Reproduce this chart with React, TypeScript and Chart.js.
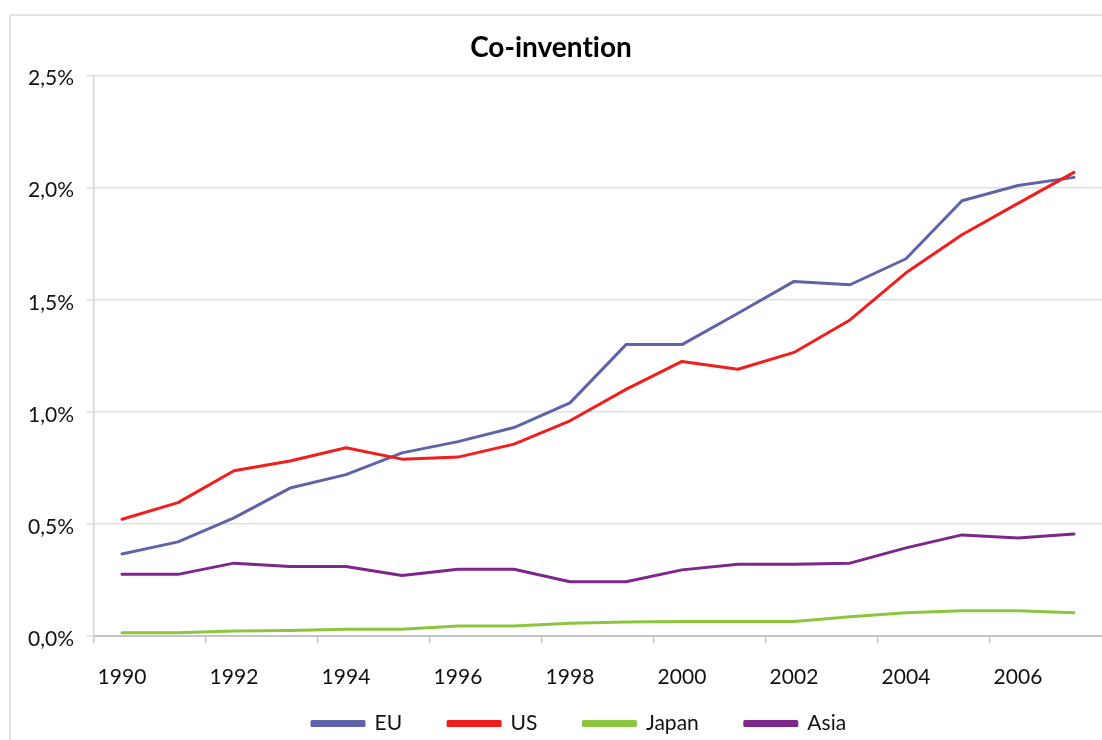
import React, { useEffect, useRef } from "react";
import { Chart, registerables } from "chart.js";

Chart.register(...registerables);

const years = ["1990","1991","1992","1993","1994","1995","1996","1997","1998","1999","2000","2001","2002","2003","2004","2005","2006","2007"];
const euValues = [0.366, 0.42, 0.527, 0.66, 0.72, 0.817, 0.867, 0.93, 1.04, 1.30, 1.30, 1.44, 1.582, 1.567, 1.683, 1.942, 2.01, 2.046];
const usValues = [0.521, 0.595, 0.737, 0.781, 0.84, 0.789, 0.798, 0.856, 0.96, 1.10, 1.225, 1.19, 1.265, 1.41, 1.62, 1.79, 1.93, 2.068];
const japanValues = [0.015, 0.015, 0.022, 0.025, 0.03, 0.03, 0.045, 0.045, 0.057, 0.062, 0.065, 0.065, 0.065, 0.086, 0.104, 0.113, 0.113, 0.104];
const asiaValues = [0.275, 0.275, 0.325, 0.31, 0.31, 0.27, 0.298, 0.298, 0.242, 0.242, 0.295, 0.32, 0.32, 0.325, 0.393, 0.451, 0.437, 0.455];
const seriesNames = ["EU", "US", "Japan", "Asia"];
const seriesColors = ["#5f63a8", "#f21d1d", "#8cc63e", "#7d268b"];
const yTicks = [0, 0.5, 1.0, 1.5, 2.0, 2.5];

const FONT = "Lato, 'Open Sans', sans-serif";

const noLigatures = {
  id: "noLigatures",
  beforeDraw(chart: any) {
    try { chart.ctx.letterSpacing = "0.01px"; } catch (e) { /* ignore */ }
  },
};

const legendPlacement = {
  id: "legendPlacement",
  afterLayout(chart: any) {
    const lg = chart.legend;
    if (!lg) return;
    lg.top = 667;
    lg.bottom = 740;
    lg.height = 73;
    lg.left += 28;
    lg.right += 28;
  },
};

export default function App() {
  const ref = useRef<HTMLCanvasElement | null>(null);

  useEffect(() => {
    document.body.style.margin = "0";
    const canvas = ref.current;
    if (!canvas) return;
    const values = [euValues, usValues, japanValues, asiaValues];
    const chart = new Chart(canvas, {
      type: "line",
      data: {
        labels: years,
        datasets: values.map((v, i) => ({
          label: seriesNames[i],
          data: v,
          borderColor: seriesColors[i],
          backgroundColor: seriesColors[i],
          borderWidth: 3,
          pointRadius: 0,
          tension: 0,
          borderJoinStyle: "round" as const,
          borderCapStyle: "round" as const,
          order: i === 1 ? 0 : i + 1,
        })),
      },
      plugins: [noLigatures, legendPlacement],
      options: {
        responsive: false,
        animation: false,
        layout: { padding: { left: 0, right: 0, top: 0, bottom: 0 } },
        plugins: {
          title: {
            display: true,
            text: "Co-invention",
            color: "#000",
            font: { family: FONT, size: 28, weight: "bold" },
            padding: { top: 31, bottom: 11 },
          },
          legend: {
            display: true,
            position: "bottom",
            maxHeight: 50,
            labels: {
              boxWidth: 52,
              boxHeight: 4,
              padding: 46,
              color: "#111",
              font: { family: FONT, size: 21 },
              sort: (a: any, b: any) => a.datasetIndex - b.datasetIndex,
            },
          },
          tooltip: { enabled: false },
        },
        scales: {
          x: {
            type: "category",
            offset: true,
            afterFit: (s: any) => { s.height = 54; },
            grid: {
              offset: true,
              drawOnChartArea: false,
              drawTicks: true,
              tickLength: 7,
              lineWidth: 1.5,
              color: (ctx: any) => (ctx.index % 2 === 0 ? "#c8c8c8" : "rgba(0,0,0,0)"),
            },
            border: { display: true, color: "#c4c4c4", width: 2 },
            ticks: {
              autoSkip: false,
              maxRotation: 0,
              minRotation: 0,
              padding: 22,
              color: "#111",
              font: { family: FONT, size: 21 },
              callback: (_v: any, i: number) => (i % 2 === 0 ? years[i] : ""),
            },
          },
          y: {
            min: 0,
            max: 2.5,
            afterFit: (s: any) => { s.width = 94; },
            afterBuildTicks: (s: any) => { s.ticks = yTicks.map((v) => ({ value: v })); },
            grid: {
              drawTicks: true,
              tickLength: 7,
              lineWidth: 1.5,
              color: "#e0e0e0",
            },
            border: { display: true, color: "#d4d4d4", width: 1.5 },
            ticks: {
              padding: 13,
              labelOffset: 3,
              color: "#111",
              font: { family: FONT, size: 21 },
              callback: (v: any) => Number(v).toFixed(1).replace(".", ",") + "%",
            },
          },
        },
      },
    });
    return () => chart.destroy();
  }, []);

  return (
    <div style={{ position: "relative", width: 1102, height: 740, overflow: "hidden", background: "#fff" }}>
      <canvas ref={ref} width={1102} height={740} style={{ display: "block" }} />
      <div
        style={{
          position: "absolute",
          left: 9,
          top: 14,
          width: 1200,
          height: 800,
          border: "2px solid #e4e4e4",
          pointerEvents: "none",
        }}
      />
    </div>
  );
}
